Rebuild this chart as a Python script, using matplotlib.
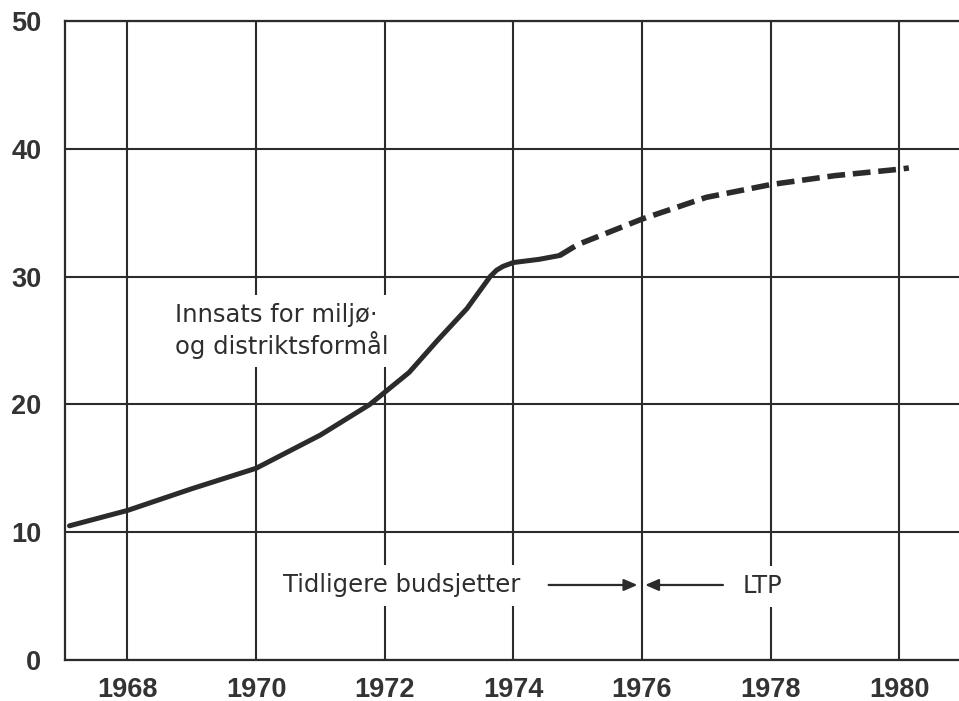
import matplotlib
matplotlib.use("Agg")
import matplotlib.pyplot as plt

# ---- data ----
solid_years = [1967.1, 1968.0, 1969.0, 1970.0, 1971.0, 1971.77, 1972.38, 1972.82,
               1973.28, 1973.64, 1973.74, 1973.84, 1974.0, 1974.4, 1974.72]
solid_values = [10.5, 11.7, 13.4, 15.0, 17.6, 20.0, 22.5, 25.0,
                27.5, 30.0, 30.5, 30.8, 31.1, 31.35, 31.65]

dashed_years = [1974.72, 1975.0, 1975.5, 1976.0, 1977.0, 1978.0, 1979.0, 1980.0, 1980.15]
dashed_values = [31.65, 32.5, 33.5, 34.5, 36.2, 37.2, 37.9, 38.4, 38.5]

x_ticks = [1968, 1970, 1972, 1974, 1976, 1978, 1980]
x_tick_labels = ["1968", "1970", "1972", "1974", "1976", "1978", "1980"]
y_ticks = [0, 10, 20, 30, 40, 50]
y_tick_labels = ["0", "10", "20", "30", "40", "50"]

series_label = "Innsats for miljø·\nog distriktsformål"
left_label = "Tidligere budsjetter"
right_label = "LTP"
split_year = 1976

ink = "#2b2b2b"
text_col = "#333333"

fig = plt.figure(figsize=(9.59, 7.01), dpi=100)
ax = fig.add_axes([65 / 959, 41 / 701, 894 / 959, 639 / 701])

ax.set_xlim(1967.03, 1980.93)
ax.set_ylim(0, 50)

ax.set_xticks(x_ticks)
ax.set_xticklabels(x_tick_labels)
ax.set_yticks(y_ticks)
ax.set_yticklabels(y_tick_labels)

for lab in ax.get_xticklabels() + ax.get_yticklabels():
    lab.set_fontfamily("Liberation Sans")
    lab.set_fontweight("bold")
    lab.set_fontsize(19.5)
    lab.set_color(text_col)
ax.tick_params(axis="x", length=0, pad=12)
ax.tick_params(axis="y", length=0, pad=17)

ax.grid(True, color=ink, linewidth=1.5, zorder=1)
ax.set_axisbelow(True)
for side in ["left", "bottom", "top"]:
    ax.spines[side].set_color(ink)
    ax.spines[side].set_linewidth(1.6)
ax.spines["right"].set_visible(False)

# ---- series ----
ax.plot(solid_years, solid_values, color=ink, linewidth=3.6,
        solid_capstyle="round", solid_joinstyle="round", zorder=5)
ax.plot(dashed_years, dashed_values, color=ink, linewidth=4.0,
        linestyle=(0, (3.2, 1.4)), dash_capstyle="butt", zorder=5)

# ---- annotations ----
box = dict(boxstyle="square,pad=0.35", facecolor="white", edgecolor="none")
ann_font = dict(family="DejaVu Sans", size=17.5, color="#2e2e2e")

ax.text(1968.74, 27.9, series_label, ha="left", va="top", linespacing=1.15,
        bbox=box, zorder=3, **ann_font)
ax.text(1970.42, 5.3, left_label, ha="left", va="baseline",
        bbox=box, zorder=3, **ann_font)
ax.text(1977.57, 5.24, right_label, ha="left", va="baseline",
        bbox=box, zorder=3, **ann_font)

arrow_style = dict(arrowstyle="-|>,head_length=0.8,head_width=0.35",
                   color=ink, linewidth=1.6, shrinkA=0, shrinkB=0)
ax.annotate("", xy=(split_year - 0.07, 5.87), xytext=(1974.55, 5.87),
            arrowprops=arrow_style, zorder=4)
ax.annotate("", xy=(split_year + 0.05, 5.87), xytext=(1977.26, 5.87),
            arrowprops=arrow_style, zorder=4)

fig.savefig("out.png", dpi=100, facecolor="white")
